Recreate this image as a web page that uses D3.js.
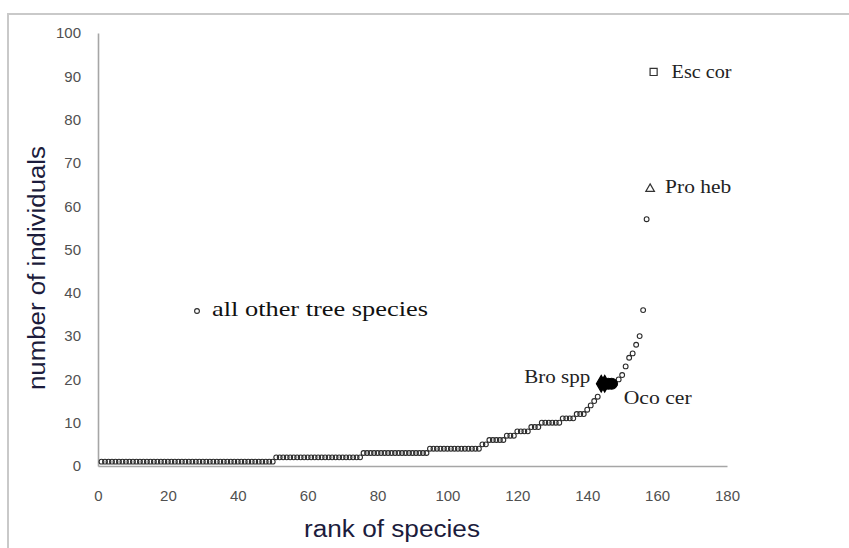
<!DOCTYPE html>
<html><head><meta charset="utf-8">
<script src="https://cdn.jsdelivr.net/npm/d3@7"></script>
<style>html,body{margin:0;padding:0;background:#fff;}svg{display:block;}</style>
</head><body>
<svg id="chart" width="849" height="548"></svg>
<script>
// abundance of each species, in rank order (rank 1 = first value)
const abundance = [
  1,1,1,1,1,1,1,1,1,1, 1,1,1,1,1,1,1,1,1,1, 1,1,1,1,1,1,1,1,1,1, 1,1,1,1,1,1,1,1,1,1, 1,1,1,1,1,1,1,1,1,1,
  2,2,2,2,2,2,2,2,2,2, 2,2,2,2,2,2,2,2,2,2, 2,2,2,2,2,
  3,3,3,3,3,3,3,3,3,3, 3,3,3,3,3,3,3,3,3,
  4,4,4,4,4,4,4,4,4,4, 4,4,4,4,4,
  5,5,6,6,6,6,6,7,7,7, 8,8,8,8,9,9,9,10,10,10, 10,10,10,11,11,11,11,12,12,12,
  13,14,15,16,19,19,19,19,19,20, 21,23,25,26,28,30,36,57,64,91
];
// highlighted species: rank, label, symbol
const specialRanks  = [144, 145, 146, 147, 158, 159];
const specialNames  = ["Bro spp", "Bro spp", "Oco cer", "Oco cer", "Pro heb", "Esc cor"];
const specialShapes = ["diamondFilled", "diamondFilled", "circleFilled", "circleFilled", "triangle", "square"];
const xTicks = [0, 20, 40, 60, 80, 100, 120, 140, 160, 180];
const yTicks = [0, 10, 20, 30, 40, 50, 60, 70, 80, 90, 100];
const xTitle = "rank of species";
const yTitle = "number of individuals";
const legendLabel = "all other tree species";

const svg = d3.select("#chart");
const x = d3.scaleLinear().domain([0, 180]).range([98, 727]);
const y = d3.scaleLinear().domain([0, 100]).range([466, 33]);

// outer frame
svg.append("path").attr("d", "M8,560 L8,14 L860,14")
  .attr("fill", "none").attr("stroke", "#c9c9c9").attr("stroke-width", 2);

// axes
const xAxis = svg.append("g").attr("transform", `translate(0,${y(0)})`)
  .call(d3.axisBottom(x).tickValues(xTicks).tickSize(0).tickPadding(24));
const yAxis = svg.append("g").attr("transform", `translate(${x(0)},0)`)
  .call(d3.axisLeft(y).tickValues(yTicks).tickSize(0).tickPadding(17));
[xAxis, yAxis].forEach(g => {
  g.select(".domain").attr("stroke", "#a6a6a6").attr("stroke-width", 1.6);
  g.selectAll("text").attr("fill", "#505050").attr("font-family", "Liberation Sans, Arial, sans-serif")
    .attr("font-size", 15);
});

// axis titles
svg.append("text").attr("x", 392).attr("y", 537).attr("text-anchor", "middle")
  .attr("font-family", "Liberation Sans, Arial, sans-serif").attr("font-size", 23)
  .attr("fill", "#1c1c3c").attr("textLength", 176).attr("lengthAdjust", "spacingAndGlyphs")
  .text(xTitle);
svg.append("text").attr("transform", "translate(45,268) rotate(-90)").attr("text-anchor", "middle")
  .attr("font-family", "Liberation Sans, Arial, sans-serif").attr("font-size", 23)
  .attr("fill", "#1c1c3c").attr("textLength", 244).attr("lengthAdjust", "spacingAndGlyphs")
  .text(yTitle);

// all other species
const others = abundance.map((v, i) => ({rank: i + 1, value: v}))
  .filter(d => !specialRanks.includes(d.rank));
svg.append("g").selectAll("circle").data(others).join("circle")
  .attr("cx", d => x(d.rank)).attr("cy", d => y(d.value)).attr("r", 2.4)
  .attr("fill", "none").attr("stroke", "#2a2a2a").attr("stroke-width", 1.1);

// special species
const specials = specialRanks.map((r, i) => ({rank: r, value: abundance[r - 1], name: specialNames[i], shape: specialShapes[i]}));
const symFor = {
  diamondFilled: d3.symbol().type(d3.symbolDiamond).size(80),
  circleFilled: d3.symbol().type(d3.symbolCircle).size(95),
  triangle: d3.symbol().type(d3.symbolTriangle).size(32),
  square: d3.symbol().type(d3.symbolSquare).size(50)
};
svg.append("g").selectAll("path").data(specials).join("path")
  .attr("transform", d => `translate(${x(d.rank)},${y(d.value)})`)
  .attr("d", d => symFor[d.shape]())
  .attr("fill", d => d.shape.endsWith("Filled") ? "#000" : "#fff")
  .attr("stroke", d => d.shape.endsWith("Filled") ? "#000" : "#333")
  .attr("stroke-width", 1.2);

// labels (one per species name)
const serif = "Liberation Serif, Times New Roman, serif";
const labelPos = {
  "Bro spp": {dx: -11, dy: -5, anchor: "end", len: 66},
  "Oco cer": {dx: 12, dy: 16, anchor: "start", len: 68},
  "Pro heb": {dx: 15, dy: 0, anchor: "start", len: 66},
  "Esc cor": {dx: 18, dy: 2, anchor: "start", len: 60}
};
const labelled = [];
specials.forEach(d => {
  if (labelled.includes(d.name)) return;
  const group = specials.filter(s => s.name === d.name);
  const p = labelPos[d.name];
  const ref = p.anchor === "end" ? group[0] : group[group.length - 1];
  labelled.push(d.name);
  svg.append("text").attr("x", x(ref.rank) + p.dx).attr("y", y(ref.value) + p.dy)
    .attr("dominant-baseline", "middle").attr("text-anchor", p.anchor)
    .attr("font-family", serif).attr("font-size", 19).attr("fill", "#222")
    .attr("textLength", p.len).attr("lengthAdjust", "spacingAndGlyphs")
    .text(d.name);
});

// legend entry for all other species
svg.append("circle").attr("cx", 197).attr("cy", 311).attr("r", 2.4)
  .attr("fill", "none").attr("stroke", "#2a2a2a").attr("stroke-width", 1.1);
svg.append("text").attr("x", 212).attr("y", 311).attr("dominant-baseline", "middle")
  .attr("font-family", serif).attr("font-size", 21).attr("fill", "#111")
  .attr("textLength", 216).attr("lengthAdjust", "spacingAndGlyphs")
  .text(legendLabel);
</script>
</body></html>
